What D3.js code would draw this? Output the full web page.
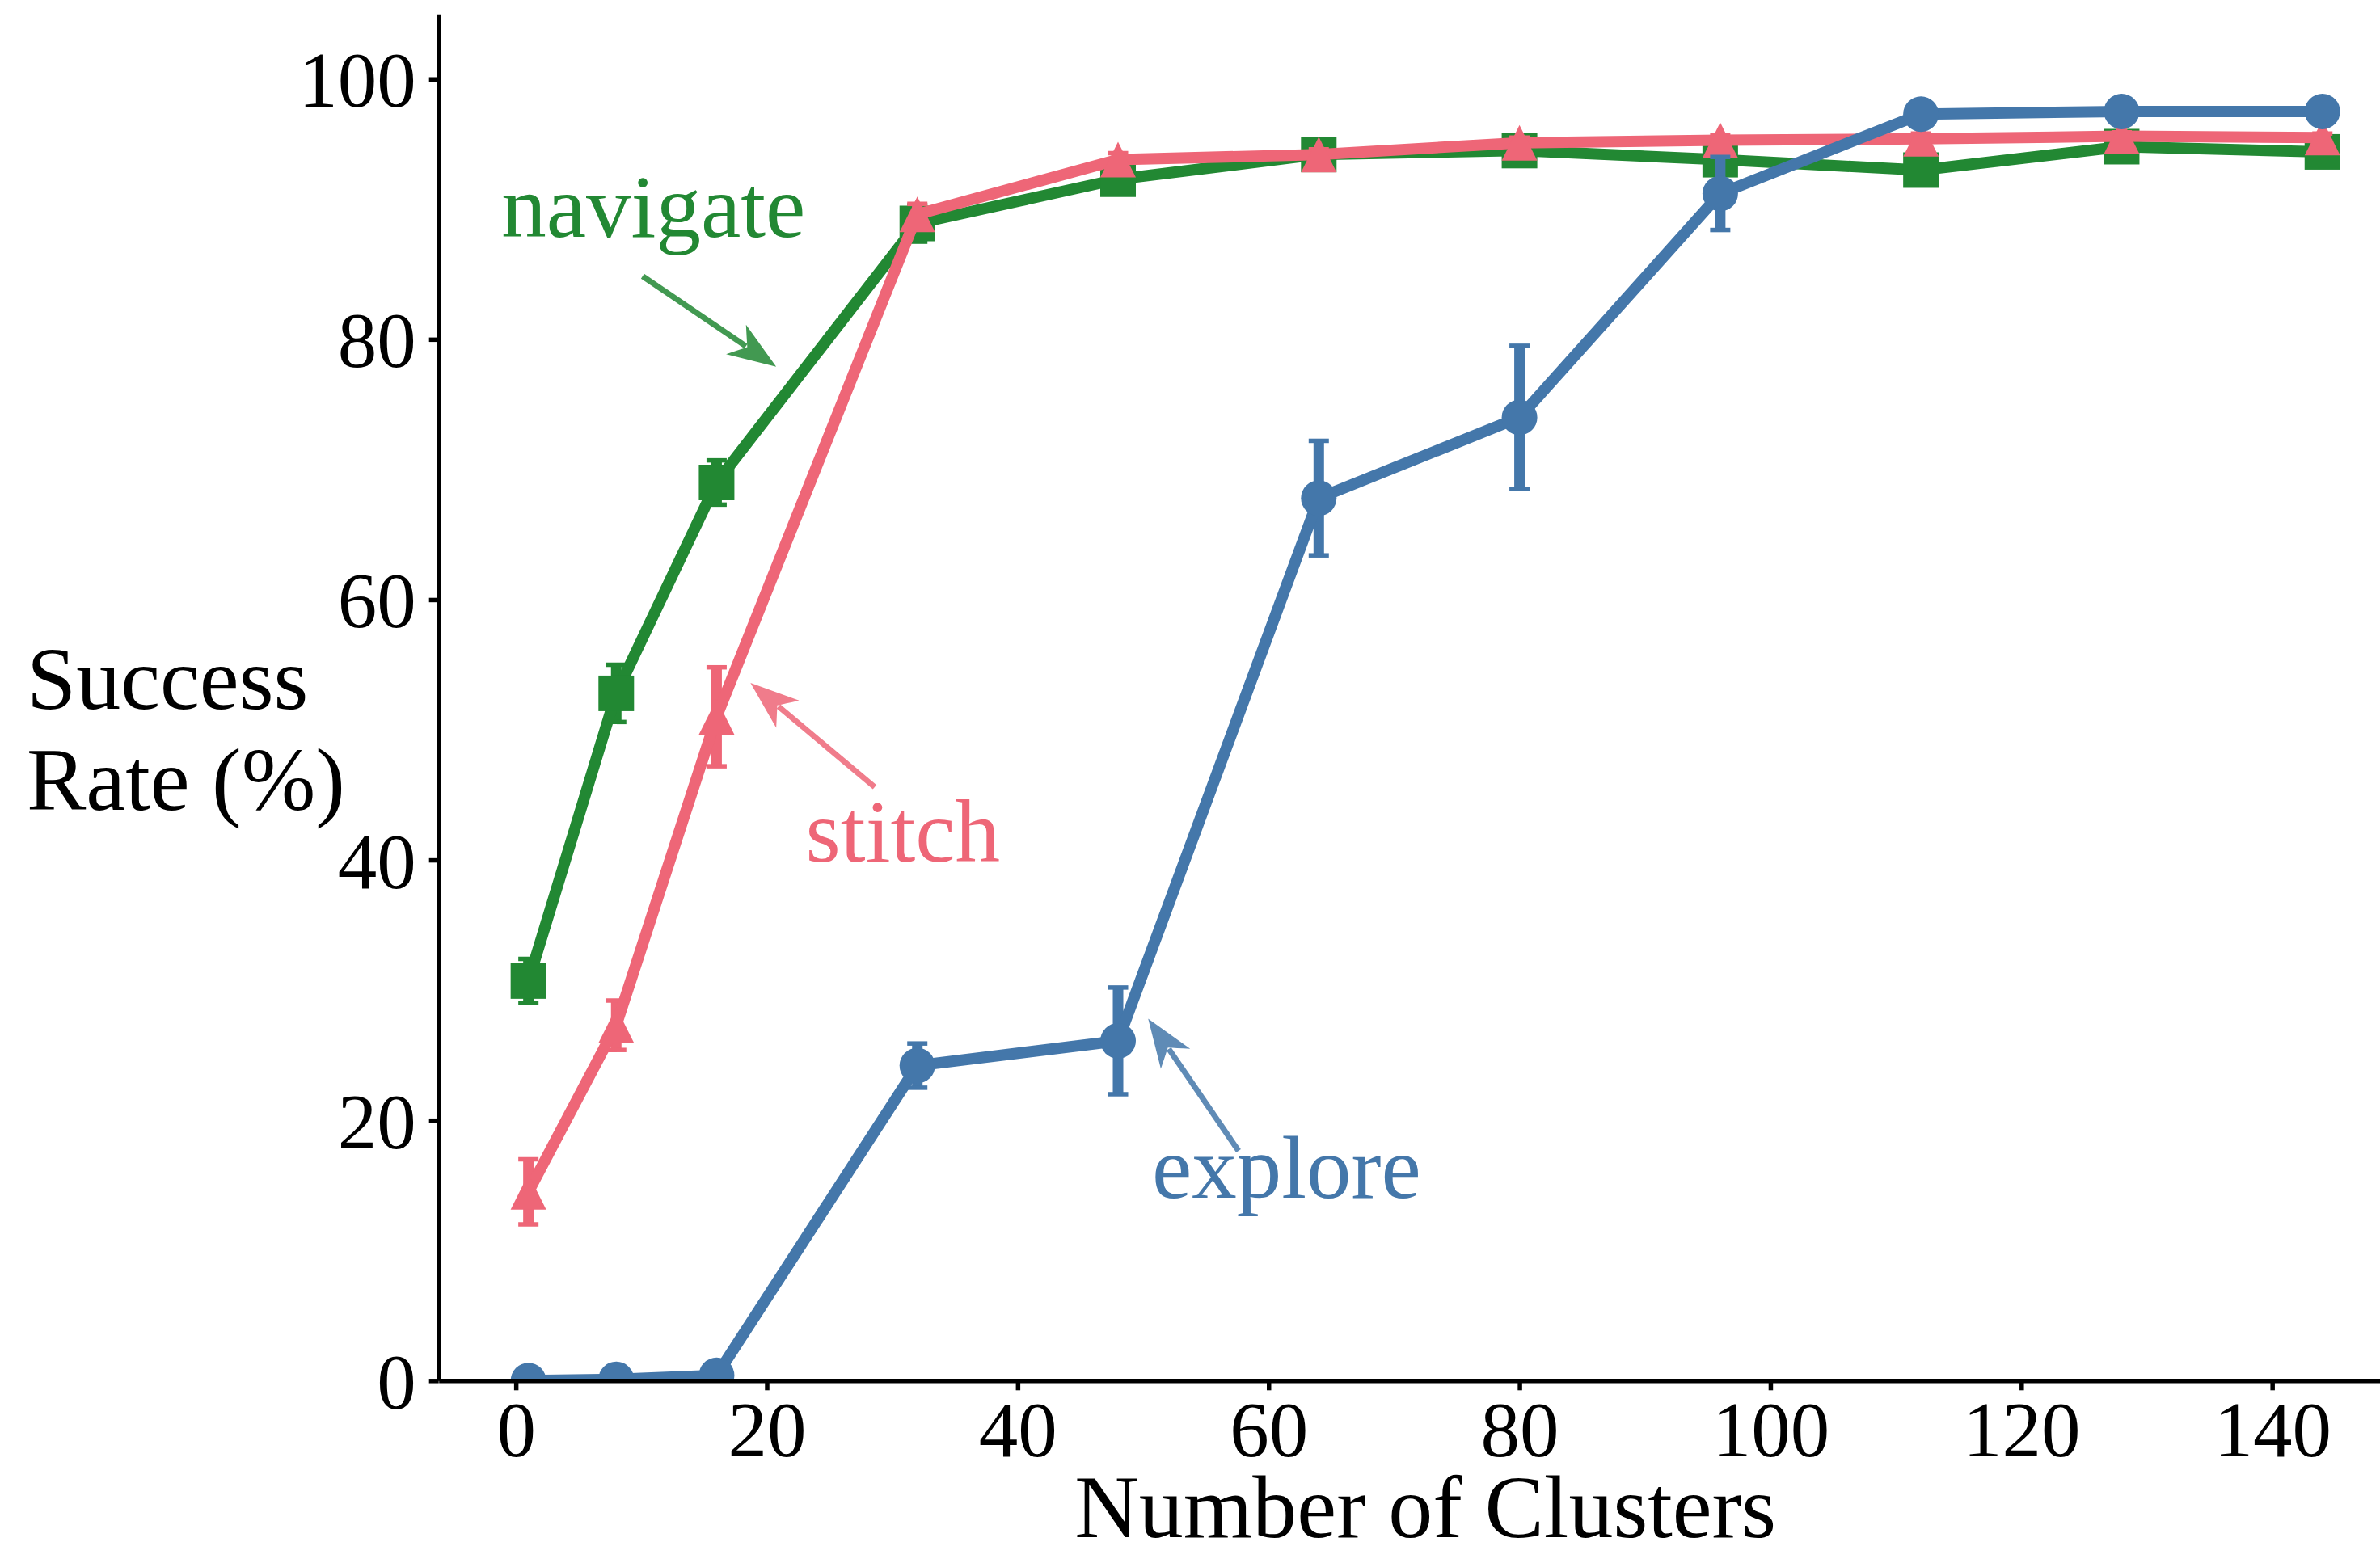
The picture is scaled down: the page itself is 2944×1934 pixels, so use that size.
<!DOCTYPE html>
<html>
<head>
<meta charset="utf-8">
<script src="https://cdn.jsdelivr.net/npm/d3@7"></script>
<style>
  html, body { margin: 0; padding: 0; background: #ffffff; }
  svg { display: block; }
</style>
</head>
<body>
<svg id="chart" width="2944" height="1934"></svg>
<script>
// ---------------- data ----------------
const clusters = [1, 8, 16, 32, 48, 64, 80, 96, 112, 128, 144];

const navigateMean = [30.7, 52.8, 69.0, 88.9, 92.3, 94.2, 94.5, 93.8, 93.0, 94.8, 94.4];
const navigateErr  = [1.7, 2.2, 1.7, 1.4, 0.7, 0.6, 0.6, 0.6, 0.7, 0.6, 0.5];

const stitchMean = [14.5, 27.3, 51.0, 89.6, 93.8, 94.2, 95.1, 95.3, 95.4, 95.6, 95.5];
const stitchErr  = [2.5, 1.9, 3.8, 0.8, 0.5, 0.4, 0.4, 0.4, 0.4, 0.3, 0.3];

const exploreMean = [0.0, 0.1, 0.4, 24.2, 26.1, 67.8, 74.0, 91.2, 97.3, 97.5, 97.5];
const exploreErr  = [0.0, 0.0, 0.0, 1.7, 4.1, 4.4, 5.5, 2.8, 0.5, 0.4, 0.4];

const xTicks = [0, 20, 40, 60, 80, 100, 120, 140];
const yTicks = [0, 20, 40, 60, 80, 100];

const xLabel = "Number of Clusters";
const yLabelLines = ["Success", "Rate (%)"];

// annotations: label text, text anchor point, arrow tail, arrow tip (data units)
const annotations = [
  { name: "navigate", text: [-1.15, 87.9], tail: [10.1, 84.85], tip: [20.75, 77.9] },
  { name: "stitch",   text: [23.1, 39.9],  tail: [28.6, 45.6],  tip: [18.7, 53.6] },
  { name: "explore",  text: [50.7, 14.07], tail: [57.6, 17.65], tip: [50.4, 27.8] }
];

// ---------------- styles ----------------
const colors = { navigate: "#228833", stitch: "#EE6677", explore: "#4477AA" };
const FONT = "'Liberation Serif', 'Times New Roman', Times, serif";

const series = [
  { name: "navigate", mean: navigateMean, err: navigateErr, marker: "square" },
  { name: "stitch",   mean: stitchMean,   err: stitchErr,   marker: "triangle" },
  { name: "explore",  mean: exploreMean,  err: exploreErr,  marker: "circle" }
];

// ---------------- scales ----------------
const x = d3.scaleLinear().domain([-6.15, 151.15]).range([542.7, 2983.7]);
const y = d3.scaleLinear().domain([0, 105]).range([1708.3, 17.2]);

const svg = d3.select("#chart");

svg.append("defs").append("clipPath").attr("id", "plotclip")
  .append("rect")
  .attr("x", x.range()[0]).attr("y", y.range()[1])
  .attr("width", x.range()[1] - x.range()[0])
  .attr("height", y.range()[0] - y.range()[1]);

const plot = svg.append("g").attr("clip-path", "url(#plotclip)");

const LW = 14, MS = 44, ELW = 13, CAPW = 25, CAPT = 5.5;

const line = d3.line().x((d) => x(d[0])).y((d) => y(d[1]));

series.forEach((s) => {
  const c = colors[s.name];
  const pts = clusters.map((cx, i) => [cx, s.mean[i], s.err[i]]);
  const g = plot.append("g");

  // error bars
  const eb = g.append("g");
  pts.filter((p) => p[2] > 0).forEach((p) => {
    const px = x(p[0]);
    eb.append("line")
      .attr("x1", px).attr("x2", px)
      .attr("y1", y(p[1] - p[2])).attr("y2", y(p[1] + p[2]))
      .attr("stroke", c).attr("stroke-width", ELW);
    [p[1] - p[2], p[1] + p[2]].forEach((v) => {
      eb.append("line")
        .attr("x1", px - CAPW / 2).attr("x2", px + CAPW / 2)
        .attr("y1", y(v)).attr("y2", y(v))
        .attr("stroke", c).attr("stroke-width", CAPT);
    });
  });

  // connecting line
  g.append("path").datum(pts)
    .attr("d", line)
    .attr("fill", "none")
    .attr("stroke", c)
    .attr("stroke-width", LW)
    .attr("stroke-linejoin", "round");

  // markers
  const h = MS / 2;
  pts.forEach((p) => {
    const px = x(p[0]), py = y(p[1]);
    if (s.marker === "circle") {
      g.append("circle").attr("cx", px).attr("cy", py).attr("r", h).attr("fill", c);
    } else if (s.marker === "square") {
      g.append("rect").attr("x", px - h).attr("y", py - h)
        .attr("width", MS).attr("height", MS).attr("fill", c);
    } else {
      g.append("path")
        .attr("d", `M${px},${py - h}L${px - h},${py + h}L${px + h},${py + h}Z`)
        .attr("fill", c);
    }
  });
});

// ---------------- axes ----------------
const xAxis = d3.axisBottom(x).tickValues(xTicks).tickSize(12).tickSizeOuter(0).tickPadding(13);
const yAxis = d3.axisLeft(y).tickValues(yTicks).tickSize(12).tickSizeOuter(0).tickPadding(16);

const gx = svg.append("g").attr("transform", `translate(0,${y(0)})`).call(xAxis);
const gy = svg.append("g").attr("transform", `translate(${x.range()[0]},0)`).call(yAxis);

[gx, gy].forEach((ga) => {
  ga.select(".domain").attr("stroke", "#000").attr("stroke-width", 5.5);
  ga.selectAll(".tick line").attr("stroke", "#000").attr("stroke-width", 5.5);
  ga.selectAll(".tick text")
    .attr("fill", "#000")
    .style("font-family", FONT)
    .style("font-size", "97px");
});
gx.selectAll(".tick text").attr("dy", "0.71em");
gy.selectAll(".tick text").attr("dy", "0.35em");

// axis labels
svg.append("text")
  .attr("x", (x.range()[0] + x.range()[1]) / 2)
  .attr("y", 1902)
  .attr("text-anchor", "middle")
  .style("font-family", FONT)
  .style("font-size", "110px")
  .attr("fill", "#000")
  .text(xLabel);

const yl = svg.append("text")
  .style("font-family", FONT)
  .style("font-size", "110px")
  .attr("fill", "#000");
yLabelLines.forEach((t, i) => {
  yl.append("tspan").attr("x", 33).attr("y", 877 + i * 125).text(t);
});

// ---------------- annotations ----------------
const HL = 60, HW = 22, SW = 7;
annotations.forEach((a) => {
  const c = colors[a.name];
  const tx = x(a.tail[0]), ty = y(a.tail[1]);
  const px = x(a.tip[0]), py = y(a.tip[1]);
  const dx = px - tx, dy = py - ty, len = Math.hypot(dx, dy);
  const ux = dx / len, uy = dy / len;      // direction
  const nx = -uy, ny = ux;                  // normal
  const bx = px - ux * HL, by = py - uy * HL; // barb base centre
  const b1 = [bx + nx * HW, by + ny * HW];
  const b2 = [bx - nx * HW, by - ny * HW];
  const notch = [px - ux * HL * 0.72, py - uy * HL * 0.72];
  const ag = svg.append("g").attr("opacity", 0.85);
  ag.append("line")
    .attr("x1", tx).attr("y1", ty)
    .attr("x2", notch[0] - ux * 2).attr("y2", notch[1] - uy * 2)
    .attr("stroke", c).attr("stroke-width", SW);
  const q1 = [notch[0] + nx * HW * 0.35 - ux * 6, notch[1] + ny * HW * 0.35 - uy * 6];
  const q2 = [notch[0] - nx * HW * 0.35 - ux * 6, notch[1] - ny * HW * 0.35 - uy * 6];
  ag.append("path")
    .attr("d", `M${px},${py}L${b1[0]},${b1[1]}Q${q1[0]},${q1[1]} ${notch[0]},${notch[1]}` +
               `Q${q2[0]},${q2[1]} ${b2[0]},${b2[1]}Z`)
    .attr("fill", c);

  svg.append("text")
    .attr("x", x(a.text[0])).attr("y", y(a.text[1]))
    .style("font-family", FONT)
    .style("font-size", "111px")
    .attr("fill", c)
    .text(a.name);
});
</script>
</body>
</html>
